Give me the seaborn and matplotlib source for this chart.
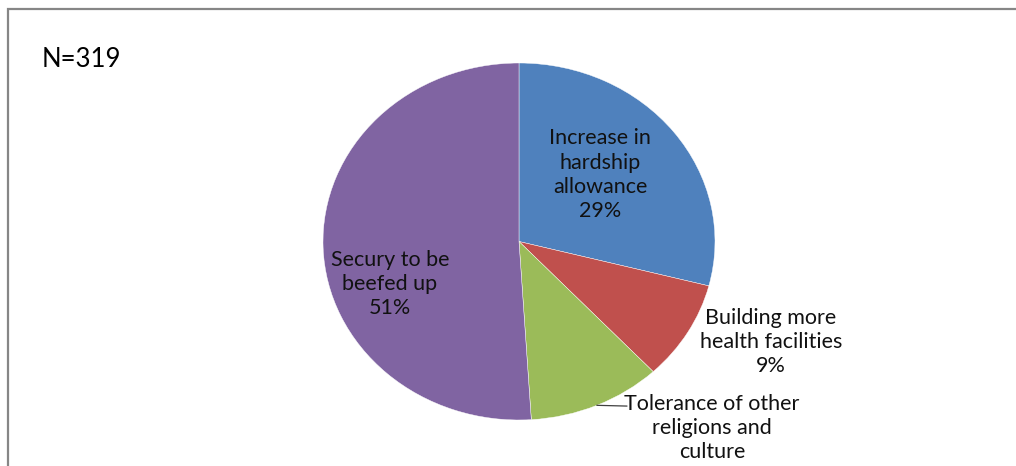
import numpy as np
import matplotlib
matplotlib.use("Agg")
import matplotlib.pyplot as plt
from matplotlib.patches import Rectangle
import seaborn as sns

# data (N=319)
categories = ["Increase in\nhardship\nallowance", "Building more\nhealth facilities",
              "Tolerance of other\nreligions and\nculture", "Secury to be\nbeefed up"]
shares = [29, 9, 11, 51]
slice_colors = ["#4F81BD", "#C0504D", "#9BBB59", "#8064A2"]
sample_note = "N=319"
# the tolerance percentage sits below the cropped bottom edge in the original
show_pct = [True, True, False, True]

sns.set_theme(style="white")
plt.rcParams['font.family'] = ['Lato', 'DejaVu Sans']

fig = plt.figure(figsize=(10.16, 4.66), dpi=100)
W, H = 1016, 466

# grey chart-area frame, running off the right and bottom edges
fig.patches.append(Rectangle((8 / W, -0.1), 1.2, 1 - 9 / H + 0.1, transform=fig.transFigure,
                             fill=False, edgecolor="#868686", linewidth=1.6))
fig.text(42 / W, 1 - 60 / H, sample_note, fontsize=18.5, va="center", ha="left", color="#000000")

# pie axes, slightly wider than tall like the original
cx, cy, rx, ry = 519, 241.5, 196, 178.5
ax = fig.add_axes([(cx - rx) / W, (H - cy - ry) / H, 2 * rx / W, 2 * ry / H])
wedges, _ = ax.pie(shares, colors=slice_colors, startangle=90, counterclock=False,
                   wedgeprops=dict(edgecolor="white", linewidth=0.3))
ax.set_aspect("auto")
ax.set_xlim(-1, 1)
ax.set_ylim(-1, 1)
ax.axis("off")

labels = [f"{c}\n{s}%" if p else c for c, s, p in zip(categories, shares, show_pct)]
label_pos = [(0.413, 0.373), (1.286, -0.563), (0.985, -1.045), (-0.658, -0.238)]
for lab, (lx, ly) in zip(labels, label_pos):
    ax.text(lx, ly, lab, ha="center", va="center", multialignment="center",
            fontsize=15.5, color="#111111", linespacing=1.27, clip_on=False)

# leader line for the tolerance label
w = wedges[2]
mid = np.deg2rad((w.theta1 + w.theta2) / 2)
ax.plot([np.cos(mid), 0.551], [np.sin(mid), -0.922], color="#404040", lw=0.9, clip_on=False)

fig.savefig("out.png", dpi=100)
